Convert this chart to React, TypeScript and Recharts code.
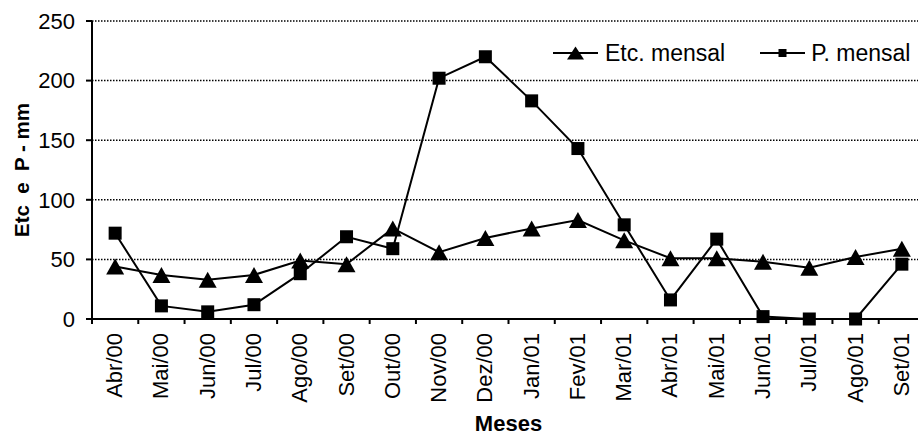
import React from "react";
import {
  CartesianGrid,
  Legend,
  Line,
  LineChart,
  XAxis,
  YAxis,
} from "recharts";

const months = [
  "Abr/00", "Mai/00", "Jun/00", "Jul/00", "Ago/00", "Set/00",
  "Out/00", "Nov/00", "Dez/00", "Jan/01", "Fev/01", "Mar/01",
  "Abr/01", "Mai/01", "Jun/01", "Jul/01", "Ago/01", "Set/01",
];
const etcMensal = [44, 37, 33, 37, 49, 46, 76, 56, 68, 76, 83, 66, 51, 51, 48, 43, 52, 59];
const pMensal = [72, 11, 6, 12, 38, 69, 59, 202, 220, 183, 143, 79, 16, 67, 2, 0, 0, 46];
const yTicks = [0, 50, 100, 150, 200, 250];

const FONT = "'Liberation Sans', Arial, sans-serif";
const W = 930;
const H = 435;
const MARGIN = { top: 21, right: 5, bottom: 0, left: 0 };
const Y_W = 92;
const X_H = 116;
const STEP = (W - MARGIN.left - MARGIN.right - Y_W) / months.length;

const rows = months.map((m, i) => ({ pos: i, month: m, etc: etcMensal[i], p: pMensal[i] }));
// tick marks sit on the boundaries between months
const bounds = months.map((_, i) => i - 0.5).concat(months.length - 0.5);

const MonthTick = (props: any) => {
  const { x, y, payload } = props;
  const k = Math.round(payload.value + 0.5);
  if (k >= months.length) return <g />;
  const tx = x + STEP / 2 + 7;
  return (
    <text
      x={tx}
      y={y}
      transform={`rotate(-90 ${tx} ${y})`}
      textAnchor="end"
      fontSize={22}
      fontFamily={FONT}
      fill="#000"
    >
      {months[k]}
    </text>
  );
};

const YTitle = (props: any) => {
  const vb = props.viewBox;
  const tx = vb.x + 29;
  const ty = vb.y + vb.height / 2;
  return (
    <text
      x={tx}
      y={ty}
      transform={`rotate(-90 ${tx} ${ty})`}
      textAnchor="middle"
      fontSize={20.5}
      fontWeight="bold"
      fontFamily={FONT}
      fill="#000"
      xmlSpace="preserve"
      style={{ whiteSpace: "pre" }}
    >
      {"Etc  e  P - mm"}
    </text>
  );
};

const XTitle = (props: any) => {
  const vb = props.viewBox;
  return (
    <text
      x={vb.x + vb.width / 2}
      y={vb.y + 112}
      textAnchor="middle"
      fontSize={22}
      fontWeight="bold"
      fontFamily={FONT}
      fill="#000"
    >
      Meses
    </text>
  );
};

const triPoints = (cx: number, cy: number, w: number, h: number) =>
  `${cx},${cy - h / 2} ${cx + w / 2},${cy + h / 2} ${cx - w / 2},${cy + h / 2}`;

const TriDot = (props: any) => {
  const { cx, cy, index } = props;
  return <polygon key={`t${index}`} points={triPoints(cx, cy, 18, 16)} fill="#000" />;
};

const SquareDot = (props: any) => {
  const { cx, cy, index } = props;
  return <rect key={`s${index}`} x={cx - 6.5} y={cy - 6.5} width={13} height={13} fill="#000" />;
};

const LegendBox = () => (
  <div
    style={{
      display: "flex",
      alignItems: "center",
      fontFamily: FONT,
      fontSize: 23,
      lineHeight: "24px",
      color: "#000",
      whiteSpace: "nowrap",
    }}
  >
    <svg width={45} height={24}>
      <line x1={0} x2={45} y1={12} y2={12} stroke="#000" strokeWidth={2} />
      <polygon points={triPoints(22.5, 12, 17, 13)} fill="#000" />
    </svg>
    <span style={{ marginLeft: 7 }}>Etc. mensal</span>
    <svg width={45} height={24} style={{ marginLeft: 35 }}>
      <line x1={0} x2={45} y1={12} y2={12} stroke="#000" strokeWidth={2} />
      <rect x={18.5} y={8} width={8} height={8} fill="#000" />
    </svg>
    <span style={{ marginLeft: 6 }}>P. mensal</span>
  </div>
);

export default function App() {
  return (
    <div
      style={{
        position: "absolute",
        left: 0,
        top: 0,
        width: 918,
        height: 435,
        overflow: "hidden",
        background: "#fff",
      }}
    >
      <LineChart width={W} height={H} data={rows} margin={MARGIN}>
        <CartesianGrid
          vertical={false}
          stroke="#000"
          strokeWidth={1.5}
          strokeDasharray="1.5 1.5"
          horizontalValues={[50, 100, 150, 200, 250]}
        />
        <XAxis
          dataKey="pos"
          type="number"
          domain={[-0.5, months.length - 0.5]}
          ticks={bounds}
          interval={0}
          height={X_H}
          axisLine={{ stroke: "#000", strokeWidth: 2 }}
          tickLine={{ stroke: "#000", strokeWidth: 2 }}
          tickSize={5}
          tickMargin={9}
          tick={<MonthTick />}
          label={<XTitle />}
        />
        <YAxis
          domain={[0, 250]}
          ticks={yTicks}
          width={Y_W}
          axisLine={{ stroke: "#000", strokeWidth: 2 }}
          tickLine={{ stroke: "#000", strokeWidth: 2 }}
          tickSize={6}
          tickMargin={11}
          tick={{ fontSize: 22, fontFamily: FONT, fill: "#000" }}
          label={<YTitle />}
        />
        <Legend
          layout="horizontal"
          verticalAlign="middle"
          content={<LegendBox />}
          wrapperStyle={{ left: 553, top: 41, width: "auto", height: "auto" }}
        />
        <Line
          dataKey="etc"
          name="Etc. mensal"
          stroke="#000"
          strokeWidth={2}
          dot={TriDot}
          activeDot={false}
          isAnimationActive={false}
        />
        <Line
          dataKey="p"
          name="P. mensal"
          stroke="#000"
          strokeWidth={2}
          dot={SquareDot}
          activeDot={false}
          isAnimationActive={false}
        />
      </LineChart>
    </div>
  );
}
